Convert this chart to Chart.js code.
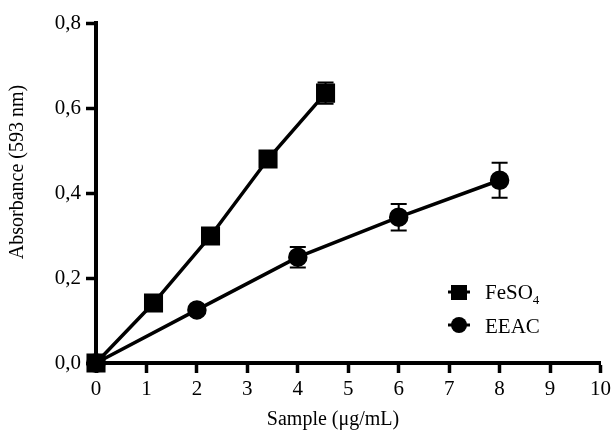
<!DOCTYPE html>
<html>
<head>
<meta charset="utf-8">
<script src="https://cdn.jsdelivr.net/npm/chart.js@4.4.1/dist/chart.umd.min.js"></script>
<style>
  html, body { margin: 0; padding: 0; background: #fff; }
  #wrap { width: 615px; height: 431px; position: relative; }
</style>
</head>
<body>
<div id="wrap"><canvas id="myChart"></canvas></div>
<script>
// data
const feX = [0, 1.14, 2.27, 3.41, 4.55];
const feY = [0, 0.141, 0.299, 0.48, 0.635];
const feErr = [0, 0.004, 0.006, 0.008, 0.025];

const eeacX = [0, 2, 4, 6, 8];
const eeacY = [0, 0.125, 0.249, 0.343, 0.43];
const eeacErr = [0, 0.005, 0.024, 0.031, 0.041];

const seriesNames = ['FeSO4', 'EEAC'];
const yTickLabels = ['0,0', '0,2', '0,4', '0,6', '0,8'];
const xTickLabels = ['0', '1', '2', '3', '4', '5', '6', '7', '8', '9', '10'];
const xTitle = 'Sample (μg/mL)';
const yTitle = 'Absorbance (593 nm)';

const font = 'Liberation Serif';

function toPoints(xs, ys) {
    return xs.map((x, i) => ({ x: x, y: ys[i] }));
}

// error bars, drawn through the scales
const errorBars = {
    id: 'errorBars',
    afterDatasetsDraw(chart) {
        const ctx = chart.ctx;
        const yScale = chart.scales.y;
        ctx.save();
        ctx.strokeStyle = '#000';
        ctx.lineWidth = 2;
        chart.data.datasets.forEach((ds, di) => {
            const meta = chart.getDatasetMeta(di);
            ds.errors.forEach((e, i) => {
                if (!e) return;
                const px = meta.data[i].x;
                const top = yScale.getPixelForValue(ds.data[i].y + e);
                const bot = yScale.getPixelForValue(ds.data[i].y - e);
                ctx.beginPath();
                ctx.moveTo(px, top); ctx.lineTo(px, bot);
                ctx.moveTo(px - 8, top); ctx.lineTo(px + 8, top);
                ctx.moveTo(px - 8, bot); ctx.lineTo(px + 8, bot);
                ctx.stroke();
            });
        });
        ctx.restore();
    }
};

// axis titles and the legend inside the plot
const extras = {
    id: 'extras',
    afterDraw(chart) {
        const ctx = chart.ctx;
        ctx.save();
        ctx.fillStyle = '#000';
        ctx.font = '20px "' + font + '"';
        ctx.textAlign = 'center';
        ctx.textBaseline = 'middle';
        ctx.fillText(xTitle, 333, 420);
        ctx.translate(18, 172);
        ctx.rotate(-Math.PI / 2);
        ctx.fillText(yTitle, 0, 0);
        ctx.restore();

        ctx.save();
        ctx.fillStyle = '#000';
        ctx.strokeStyle = '#000';
        ctx.lineWidth = 3;
        // square marker
        ctx.beginPath();
        ctx.moveTo(448, 292); ctx.lineTo(470, 292); ctx.stroke();
        ctx.fillRect(451, 285, 16, 15);
        // circle marker
        ctx.beginPath();
        ctx.moveTo(448, 325); ctx.lineTo(470, 325); ctx.stroke();
        ctx.beginPath();
        ctx.arc(459, 325, 8, 0, Math.PI * 2);
        ctx.fill();

        ctx.font = '21px "' + font + '"';
        ctx.textBaseline = 'alphabetic';
        ctx.textAlign = 'left';
        const base = seriesNames[0].slice(0, -1);
        ctx.fillText(base, 485, 299);
        const w = ctx.measureText(base).width;
        ctx.font = '13px "' + font + '"';
        ctx.fillText(seriesNames[0].slice(-1), 485 + w, 304);
        ctx.font = '21px "' + font + '"';
        ctx.fillText(seriesNames[1], 485, 333);
        ctx.restore();
    }
};

new Chart(document.getElementById('myChart'), {
    type: 'line',
    data: {
        datasets: [{
            label: seriesNames[0],
            data: toPoints(feX, feY),
            errors: feErr,
            borderColor: '#000',
            backgroundColor: '#000',
            borderWidth: 3.5,
            pointStyle: 'rect',
            pointRadius: 11,
            pointHoverRadius: 11,
            clip: false
        }, {
            label: seriesNames[1],
            data: toPoints(eeacX, eeacY),
            errors: eeacErr,
            borderColor: '#000',
            backgroundColor: '#000',
            borderWidth: 3.5,
            pointStyle: 'circle',
            pointRadius: 8,
            pointHoverRadius: 8,
            clip: false
        }]
    },
    options: {
        responsive: true,
        maintainAspectRatio: false,
        animation: false,
        layout: { padding: { left: 0, top: 23, right: 12, bottom: 0 } },
        plugins: {
            legend: { display: false },
            tooltip: { enabled: false }
        },
        scales: {
            x: {
                type: 'linear',
                min: 0,
                max: 10,
                afterFit(scale) {
                    scale.height = 68;
                    scale.paddingLeft = 0;
                    scale.paddingRight = 0;
                },
                border: { display: true, color: '#000', width: 4 },
                grid: { drawOnChartArea: false, drawTicks: true, tickLength: 10, tickWidth: 3.5, tickColor: '#000' },
                ticks: {
                    stepSize: 1,
                    color: '#000',
                    padding: 4,
                    maxRotation: 0,
                    font: { family: font, size: 21 },
                    callback: (v, i) => xTickLabels[i]
                }
            },
            y: {
                min: 0,
                max: 0.8,
                afterFit(scale) {
                    scale.width = 96;
                    scale.paddingTop = 0;
                    scale.paddingBottom = 0;
                },
                border: { display: true, color: '#000', width: 4 },
                grid: { drawOnChartArea: false, drawTicks: true, tickLength: 10, tickWidth: 3.5, tickColor: '#000' },
                ticks: {
                    stepSize: 0.2,
                    color: '#000',
                    padding: 5,
                    font: { family: font, size: 21 },
                    callback: (v, i) => yTickLabels[i]
                }
            }
        }
    },
    plugins: [errorBars, extras]
});
</script>
</body>
</html>
